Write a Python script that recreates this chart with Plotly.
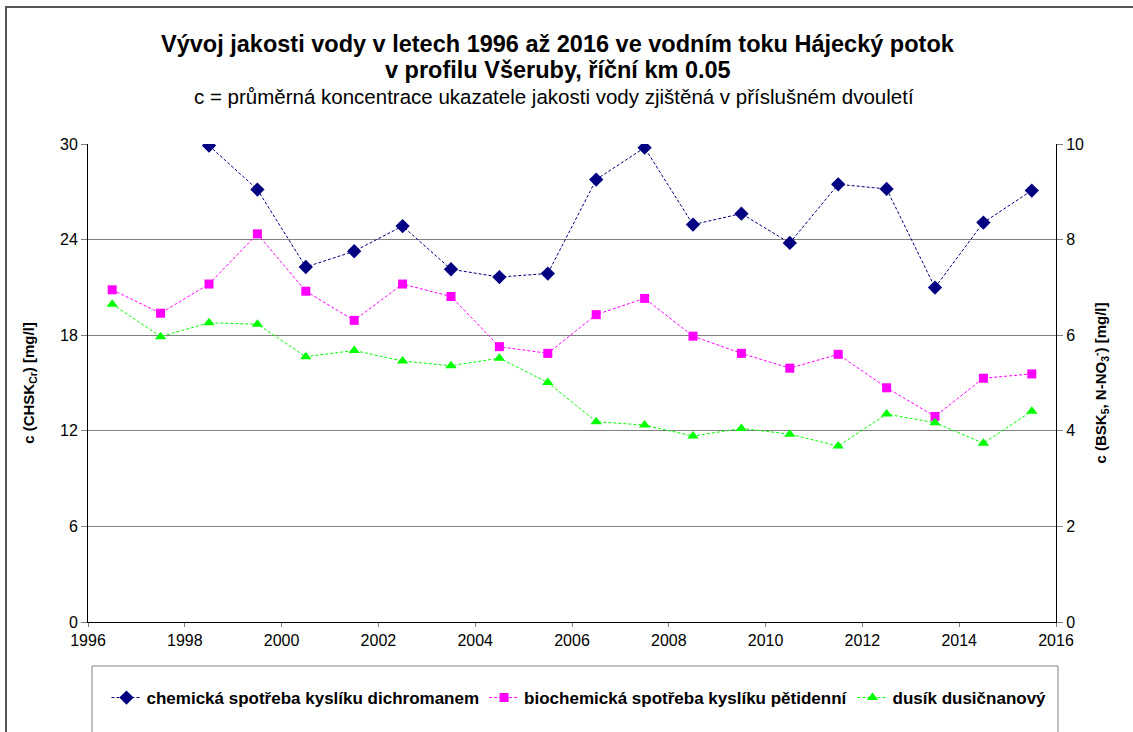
import plotly.graph_objects as go

years = [1996.5 + i for i in range(20)]

chsk_years = years[2:]
chsk = [29.9, 27.14, 22.28, 23.27, 24.85, 22.14, 21.65, 21.87, 27.77, 29.77,
        24.94, 25.63, 23.79, 27.47, 27.18, 20.99, 25.07, 27.08]

bsk = [6.95, 6.46, 7.07, 8.12, 6.92, 6.31, 7.07, 6.81, 5.76, 5.62,
       6.43, 6.77, 5.98, 5.62, 5.31, 5.60, 4.90, 4.30, 5.10, 5.19]

nno3 = [6.65, 5.97, 6.26, 6.23, 5.55, 5.68, 5.46, 5.36, 5.52, 5.01,
        4.19, 4.12, 3.89, 4.05, 3.93, 3.68, 4.35, 4.17, 3.74, 4.41]

names = ["chemická spotřeba kyslíku dichromanem",
         "biochemická spotřeba kyslíku pětidenní",
         "dusík dusičnanový"]

FONT = "Liberation Sans, Arial, sans-serif"
W, H = 1133, 732
L, R, T, B = 88, 77, 144, 110
pw, ph = W - L - R, H - T - B

def px(x):
    return (x - L) / pw

def py(y):
    return (H - B - y) / ph

fig = go.Figure()
fig.add_trace(go.Scatter(
    x=chsk_years, y=chsk, name=names[0], mode="lines+markers",
    line=dict(color="#000080", width=1, dash="3px,2px"),
    marker=dict(symbol="diamond", size=11, color="#000080"),
))
fig.add_trace(go.Scatter(
    x=years, y=bsk, name=names[1], mode="lines+markers", yaxis="y2",
    line=dict(color="#FF00FF", width=1, dash="3px,2px"),
    marker=dict(symbol="square", size=9, color="#FF00FF"),
))
fig.add_trace(go.Scatter(
    x=years, y=nno3, name=names[2], mode="lines+markers", yaxis="y2",
    line=dict(color="#00FF00", width=1, dash="3px,2px"),
    marker=dict(symbol="triangle-up", size=10, color="#00FF00"),
))

tickfont = dict(family=FONT, size=16, color="black")
titlefont = dict(family=FONT, size=15, color="black", weight="bold")

fig.update_layout(
    width=W, height=H,
    margin=dict(l=L, r=R, t=T, b=B, autoexpand=False),
    paper_bgcolor="white", plot_bgcolor="white",
    font=dict(family=FONT, color="black"),
    xaxis=dict(range=[1996, 2016], dtick=2, tick0=1996, showgrid=False,
               showline=True, linecolor="black", linewidth=1,
               ticks="outside", ticklen=4, tickcolor="#808080",
               tickfont=tickfont, zeroline=False),
    yaxis=dict(range=[0, 30], dtick=6, showgrid=True, gridcolor="#808080",
               gridwidth=1, showline=True, linecolor="black", linewidth=1,
               ticks="outside", ticklen=6, tickcolor="#808080",
               tickfont=tickfont, zeroline=False,
               title=dict(text="c (CHSK<sub>Cr</sub>) [mg/l]", font=titlefont,
                          standoff=21)),
    yaxis2=dict(range=[0, 10], dtick=2, overlaying="y", side="right",
                showgrid=False, showline=True, linecolor="black", linewidth=1,
                ticks="outside", ticklen=6, tickcolor="#808080",
                tickfont=tickfont, zeroline=False,
                title=dict(text="c (BSK<sub>5</sub>, N-NO<sub>3</sub><sup>-</sup>) [mg/l]",
                           font=titlefont, standoff=12)),
    legend=dict(orientation="h", x=px(579), xanchor="center", y=py(698),
                yanchor="middle", font=dict(family=FONT, size=17, color="black",
                                            weight="bold"),
                bgcolor="rgba(0,0,0,0)", itemwidth=30, tracegroupgap=0),
    showlegend=True,
)

fig.add_annotation(text="<b>Vývoj jakosti vody v letech 1996 až 2016 ve vodním toku Hájecký potok</b>",
                   xref="paper", yref="paper", x=px(557.5), y=py(44), xanchor="center",
                   yanchor="middle", showarrow=False,
                   font=dict(family=FONT, size=23.5, color="black"))
fig.add_annotation(text="<b>v profilu Všeruby, říční km 0.05</b>",
                   xref="paper", yref="paper", x=px(557.5), y=py(70), xanchor="center",
                   yanchor="middle", showarrow=False,
                   font=dict(family=FONT, size=23.5, color="black"))
fig.add_annotation(text="c = průměrná koncentrace ukazatele jakosti vody zjištěná v příslušném dvouletí",
                   xref="paper", yref="paper", x=px(554), y=py(97), xanchor="center",
                   yanchor="middle", showarrow=False,
                   font=dict(family=FONT, size=20.5, color="black"))

# legend box
fig.add_shape(type="rect", xref="paper", yref="paper",
              x0=px(92), x1=px(1058), y0=py(760), y1=py(666),
              line=dict(color="#808080", width=1), fillcolor="rgba(0,0,0,0)",
              layer="below")
# outer chart border
fig.add_shape(type="rect", xref="paper", yref="paper",
              x0=px(6), x1=px(1200), y0=py(800), y1=py(7),
              line=dict(color="#555555", width=2), fillcolor="rgba(0,0,0,0)",
              layer="below")

fig.write_html("out.html",
               config={"displayModeBar": False},
               post_script="document.body.style.margin='0';document.body.style.overflow='hidden';")
